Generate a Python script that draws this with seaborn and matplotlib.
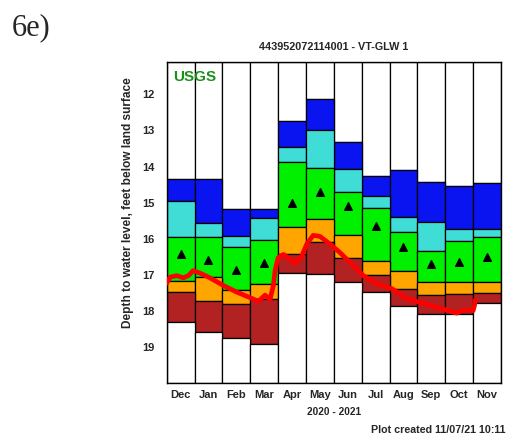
import numpy as np
import pandas as pd
import matplotlib
matplotlib.use("Agg")
import matplotlib.pyplot as plt
import seaborn as sns

# Месяцы и процентили (глубина, футы ниже поверхности)
months = ['Dec', 'Jan', 'Feb', 'Mar', 'Apr', 'May', 'Jun', 'Jul', 'Aug', 'Sep', 'Oct', 'Nov']
p_max = [14.34, 14.34, 15.17, 15.17, 12.73, 12.12, 13.33, 14.25, 14.11, 14.42, 14.53, 14.46]
p90 = [14.97, 15.56, 15.92, 15.42, 13.47, 12.99, 14.07, 14.82, 15.39, 15.53, 15.74, 15.74]
p75 = [15.95, 15.95, 16.24, 16.05, 13.87, 14.03, 14.72, 15.16, 15.82, 16.34, 16.07, 15.95]
p25 = [17.18, 17.08, 17.42, 17.26, 15.68, 15.46, 15.91, 16.62, 16.89, 17.21, 17.20, 17.20]
p10 = [17.48, 17.72, 17.81, 17.67, 16.44, 16.09, 16.53, 17.00, 17.40, 17.56, 17.53, 17.51]
p_min = [18.31, 18.60, 18.76, 18.94, 16.95, 16.97, 17.20, 17.48, 17.86, 18.09, 18.10, 17.78]
median = [16.43, 16.59, 16.86, 16.67, 15.00, 14.72, 15.11, 15.64, 16.24, 16.70, 16.66, 16.52]

# Измеренный уровень (позиция в месяцах от 1 декабря)
obs_pos = [0.0, 0.12, 0.36, 0.6, 0.78, 0.95, 1.2, 1.55, 2.03, 2.5, 2.99, 3.29, 3.53, 3.71,
           3.83, 3.89, 4.0, 4.19, 4.43, 4.6, 4.85, 5.03, 5.26, 5.5, 5.86, 6.22, 6.58, 7.06,
           7.54, 8.08, 8.61, 9.21, 9.81, 10.41, 10.65, 11.0, 11.05, 11.07]
obs_depth = [17.24, 17.07, 17.03, 17.09, 17.03, 16.89, 16.96, 17.09, 17.30, 17.48, 17.64, 17.74,
             17.57, 17.69, 17.30, 16.89, 16.53, 16.44, 16.57, 16.69, 16.48, 16.15, 15.91, 15.94,
             16.15, 16.39, 16.66, 17.03, 17.25, 17.39, 17.66, 17.80, 17.93, 18.07, 17.98, 18.00,
             17.85, 17.71]

y_top, y_bottom = 11.1, 20.0

sns.set_style("white")
plt.rcParams['font.family'] = ['Liberation Sans', 'DejaVu Sans']

fig = plt.figure(figsize=(5.12, 4.42), dpi=100)
ax = fig.add_axes([0.3256, 0.1342, 0.6529, 0.7255])

x = np.arange(len(months)) + 0.5
bands = [
    ([y_top] * 12, p_max, 'white'),
    (p_max, p90, '#0a14f0'),
    (p90, p75, '#40dcd6'),
    (p75, p25, '#00f000'),
    (p25, p10, '#ffa500'),
    (p10, p_min, '#b22222'),
    (p_min, [y_bottom] * 12, 'white'),
]
for upper, lower, color in bands:
    upper = np.array(upper)
    lower = np.array(lower)
    ax.bar(x, lower - upper, bottom=upper, width=1.0, color=color,
           edgecolor='black', linewidth=0.9, zorder=1)

ax.scatter(x, median, marker='^', color='black', s=30, zorder=3)

obs = pd.DataFrame({'pos': obs_pos, 'depth': obs_depth})
sns.lineplot(data=obs, x='pos', y='depth', color='#ff0000', linewidth=3.4,
             ax=ax, zorder=4, sort=False)

ax.set_xlim(0, 12)
ax.set_ylim(y_bottom, y_top)
ax.set_xticks(x)
ax.set_xticklabels(months, fontsize=8, fontweight='bold')
ax.set_yticks(range(12, 20))
ax.set_yticklabels([str(v) for v in range(12, 20)], fontsize=8, fontweight='bold')
ax.tick_params(length=0, pad=9)
ax.tick_params(axis='x', pad=5)
ax.set_xlabel('2020 - 2021', fontsize=7.3, fontweight='bold', labelpad=5)
ax.set_ylabel('Depth to water level, feet below land surface', fontsize=8.6,
              fontweight='bold')
ax.yaxis.set_label_coords(-0.098, 0.562)
ax.set_title('443952072114001 - VT-GLW 1', fontsize=7.8, fontweight='bold', pad=9)
for s in ax.spines.values():
    s.set_color('black')
    s.set_linewidth(1.0)

ax.text(0.02, 0.975, 'USGS', transform=ax.transAxes, ha='left', va='top',
        fontsize=11, fontweight='bold', color='#1a8f1a', zorder=5)
fig.text(0.022, 0.97, '6e)', fontsize=22, family='Liberation Serif', ha='left', va='top')
fig.text(0.987, 0.015, 'Plot created 11/07/21 10:11', fontsize=7.7, fontweight='bold',
         ha='right', va='bottom')

fig.savefig('out.png', dpi=100)
